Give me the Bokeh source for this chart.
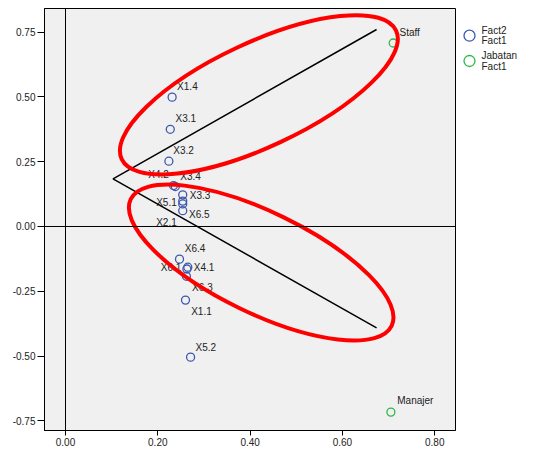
import math
from bokeh.plotting import figure
from bokeh.layouts import row
from bokeh.models import (Span, FixedTicker, NumeralTickFormatter, Range1d, ColumnDataSource)
from bokeh.core.properties import value
from bokeh.embed import file_html
from bokeh.resources import INLINE

# ---- data ----
var_names = ["X1.4", "X3.1", "X3.2", "X4.2", "X3.4", "X3.3", "X5.1", "X2.1", "X6.5",
             "X6.4", "X4.1", "X6.1", "X6.3", "X1.1", "X5.2"]
var_dim1 = [0.231, 0.227, 0.224, 0.234, 0.238, 0.254, 0.254, 0.254, 0.254,
            0.247, 0.265, 0.263, 0.262, 0.260, 0.271]
var_dim2 = [0.499, 0.375, 0.252, 0.158, 0.154, 0.122, 0.098, 0.087, 0.061,
            -0.126, -0.157, -0.164, -0.192, -0.284, -0.504]

job_names = ["Staff", "Manajer"]
job_dim1 = [0.710, 0.705]
job_dim2 = [0.708, -0.716]

x_ticks = [0.0, 0.2, 0.4, 0.6, 0.8]
y_ticks = [-0.75, -0.5, -0.25, 0.0, 0.25, 0.5, 0.75]

legend_labels = ["Fact2\nFact1", "Jabatan\nFact1"]

# hand-drawn annotation: black wedge lines
wedge_x = [0.674, 0.103, 0.674]
wedge_y = [0.760, 0.184, -0.391]

# hand-drawn annotation: red ellipses (centre in data units)
ell_x = [0.419, 0.424]
ell_y = [0.508, -0.139]
ell_w_px = [303, 290]
ell_h_px = [104, 101]
ell_angle_deg = [25.1, -25.9]

# ---- label placement (pixels) ----
var_dx = [5, 5.3, 4.4, -4.7, 5, 7, -6, -6, 6.3, 5.3, 6, -5.5, 5.7, 5.7, 5]
var_dy = [-10.7, -10.4, -10.7, -10.7, -10, 0.4, 1.8, 18.8, 4, -10.4, 0, -1.8, 11.6, 11.3, -10]
var_align = ["left", "left", "left", "right", "left", "left", "right", "right", "left",
             "left", "left", "right", "left", "left", "left"]
job_dx = [6.3, 6.4]
job_dy = [-10.3, -11.7]

BLUE = "#3E58AC"
GREEN = "#2EB848"
FONT = "Liberation Sans"
TXT = "#222222"

# ---------------- main plot ----------------
p = figure(width=456, height=450, output_backend="svg", toolbar_location=None,
           x_range=Range1d(-0.0455, 0.845), y_range=Range1d(-0.787, 0.841),
           min_border_left=44, min_border_right=1, min_border_top=8, min_border_bottom=20)
p.background_fill_color = "#f0f0f0"
p.border_fill_color = "white"
p.outline_line_color = "black"
p.outline_line_width = 1
p.grid.visible = False

for ax in (p.xaxis[0], p.yaxis[0]):
    ax.major_label_text_font = FONT
    ax.major_label_text_font_size = "10px"
    ax.major_label_text_color = TXT
    ax.axis_line_color = "black"
    ax.major_tick_line_color = "black"
    ax.major_tick_in = 0
    ax.minor_tick_line_color = None
    ax.major_label_standoff = 2
    ax.formatter = NumeralTickFormatter(format="0.00")
p.xaxis[0].ticker = FixedTicker(ticks=x_ticks)
p.yaxis[0].ticker = FixedTicker(ticks=y_ticks)
p.xaxis[0].major_tick_out = 5
p.yaxis[0].major_tick_out = 7

p.add_layout(Span(location=0, dimension="height", line_color="black", line_width=1))
p.add_layout(Span(location=0, dimension="width", line_color="black", line_width=1))

src_v = ColumnDataSource(dict(x=var_dim1, y=var_dim2, t=var_names, dx=var_dx, dy=var_dy, al=var_align))
src_j = ColumnDataSource(dict(x=job_dim1, y=job_dim2, t=job_names, dx=job_dx, dy=job_dy))

p.scatter("x", "y", source=src_v, marker="circle", size=8, fill_alpha=0,
          line_color=BLUE, line_width=1.3)
p.scatter("x", "y", source=src_j, marker="circle", size=8, fill_alpha=0,
          line_color=GREEN, line_width=1.3)

p.text("x", "y", text="t", source=src_v, x_offset="dx", y_offset="dy", text_align="al",
       text_baseline="middle", text_font=value(FONT), text_font_size="10px", text_color=TXT)
p.text("x", "y", text="t", source=src_j, x_offset="dx", y_offset="dy", text_align="left",
       text_baseline="middle", text_font=value(FONT), text_font_size="10px", text_color=TXT)

p.line(wedge_x, wedge_y, line_color="black", line_width=1.5)

p.ellipse(x=ell_x, y=ell_y, width=ell_w_px, height=ell_h_px,
          width_units="screen", height_units="screen",
          angle=[math.radians(a) for a in ell_angle_deg],
          fill_alpha=0, line_color="#ff0000", line_width=4)

# ---------------- legend panel (pixel coordinates, y downwards) ----------------
LW, LH = 64, 450
lg = figure(width=LW, height=LH, output_backend="svg", toolbar_location=None,
            x_range=Range1d(0, LW), y_range=Range1d(LH, 0),
            x_axis_type=None, y_axis_type=None, min_border=0)
lg.outline_line_color = None
lg.grid.visible = False
lg.background_fill_color = "white"
lg.border_fill_color = "white"

item_y0, item_step = 29, 27
glyph_x, text_x, line_gap = 13, 25, 11
colors = [BLUE, GREEN]
gx, gy, gc, tx, ty, tt = [], [], [], [], [], []
for i, lab in enumerate(legend_labels):
    cy = item_y0 + i * item_step
    gx.append(glyph_x); gy.append(cy); gc.append(colors[i])
    lines = lab.split("\n")
    n = len(lines)
    for j, ln in enumerate(lines):
        tx.append(text_x)
        ty.append(cy + (j - (n - 1) / 2) * line_gap)
        tt.append(ln)
lg.scatter(gx, gy, marker="circle", size=11, fill_alpha=0, line_color=gc, line_width=1.3)
lg.text(tx, ty, text=tt, text_align="left", text_baseline="middle",
        text_font=value(FONT), text_font_size="10px", text_color=TXT)

layout = row(p, lg, spacing=0)
open("out.html", "w").write(file_html(layout, INLINE))
